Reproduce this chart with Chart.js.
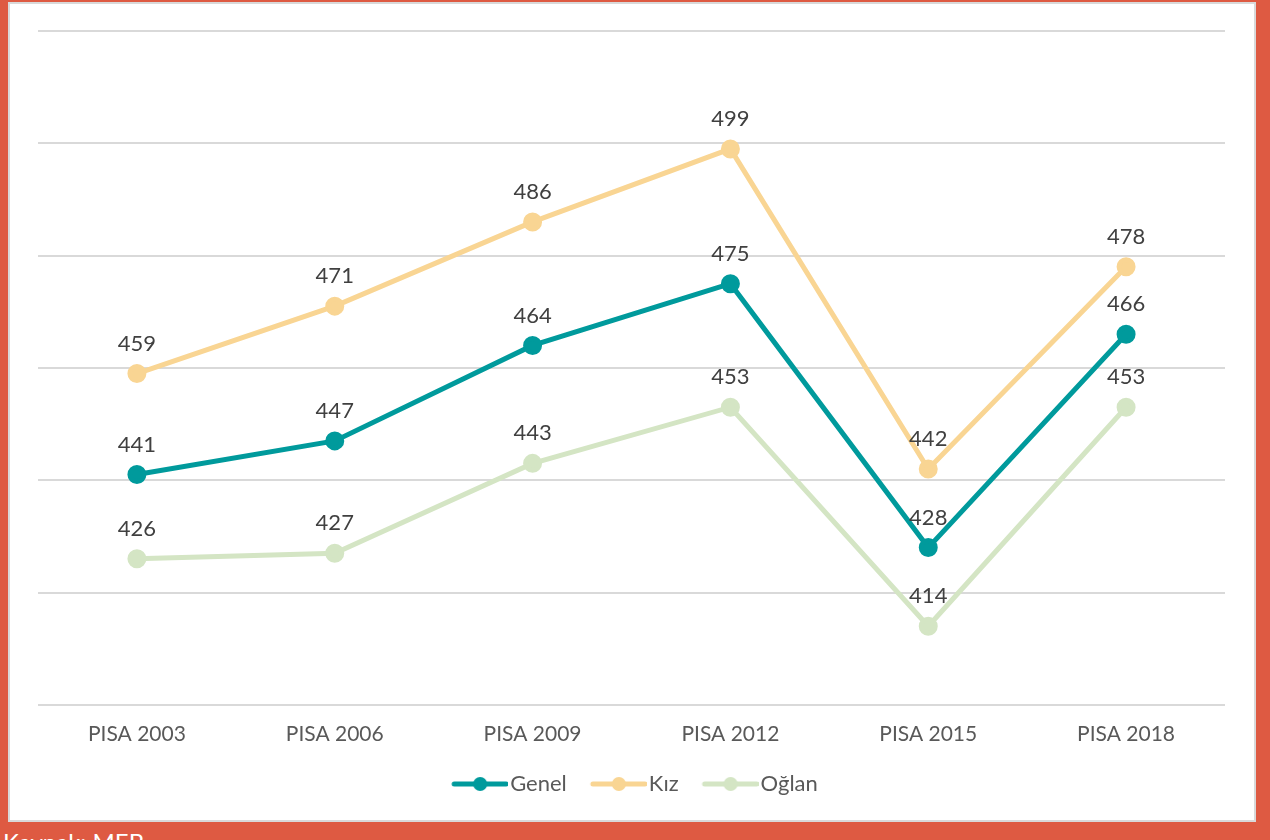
<!DOCTYPE html>
<html>
<head>
<meta charset="utf-8">
<script src="https://cdn.jsdelivr.net/npm/chart.js@4"></script>
<style>
  html, body { margin: 0; padding: 0; }
  body { width: 1270px; height: 840px; background: #DE5A42; position: relative; overflow: hidden; font-family: Lato, sans-serif; }
  #panel { position: absolute; left: 8px; top: 2px; width: 1248px; height: 820px; box-sizing: border-box; border: 2px solid #d9d9d9; background: #fff; }
  #wrap { position: absolute; left: 0; top: 0; width: 1244px; height: 816px; }
  #source { position: absolute; left: 3px; top: 827px; color: #fff; font-size: 24px; white-space: nowrap; }
</style>
</head>
<body>
<div id="panel"><div id="wrap"><canvas id="myChart"></canvas></div></div>
<div id="source">Kaynak: MEB</div>
<script>
var categories = ['PISA 2003', 'PISA 2006', 'PISA 2009', 'PISA 2012', 'PISA 2015', 'PISA 2018'];
var genel = [441, 447, 464, 475, 428, 466];
var kiz = [459, 471, 486, 499, 442, 478];
var oglan = [426, 427, 443, 453, 414, 453];

var colors = ['#009A9C', '#F9D593', '#D4E5C4'];

// legend marker: a short line with a dot in the middle
function legendMarker(color, thick) {
    var c = document.createElement('canvas');
    c.width = 72;
    c.height = 16;
    var g = c.getContext('2d');
    g.strokeStyle = color;
    g.lineWidth = thick;
    g.lineCap = 'round';
    g.beginPath();
    g.moveTo(18, 8);
    g.lineTo(70, 8);
    g.stroke();
    g.fillStyle = color;
    g.beginPath();
    g.arc(44, 8, 7, 0, Math.PI * 2);
    g.fill();
    return c;
}

// values above the points
var valueLabels = {
    id: 'valueLabels',
    afterDatasetsDraw: function(chart) {
        var ctx = chart.ctx;
        ctx.save();
        ctx.font = '22px Lato, sans-serif';
        ctx.fillStyle = '#404040';
        ctx.textAlign = 'center';
        ctx.textBaseline = 'middle';
        chart.data.datasets.forEach(function(ds, i) {
            chart.getDatasetMeta(i).data.forEach(function(pt, j) {
                ctx.fillText(ds.data[j], pt.x, pt.y - 30);
            });
        });
        ctx.restore();
    }
};

var ctx = document.getElementById('myChart').getContext('2d');
var chart = new Chart(ctx, {
    type: 'line',
    data: {
        labels: categories,
        datasets: [{
            label: 'Genel',
            data: genel,
            borderColor: colors[0],
            backgroundColor: colors[0],
            borderWidth: 5,
            pointRadius: 7,
            marker: legendMarker(colors[0], 5)
        }, {
            label: 'Kız',
            data: kiz,
            borderColor: colors[1],
            backgroundColor: colors[1],
            borderWidth: 5,
            pointRadius: 7,
            marker: legendMarker(colors[1], 5)
        }, {
            label: 'Oğlan',
            data: oglan,
            borderColor: colors[2],
            backgroundColor: colors[2],
            borderWidth: 5,
            pointRadius: 7,
            marker: legendMarker(colors[2], 5)
        }]
    },
    options: {
        responsive: true,
        maintainAspectRatio: false,
        animation: false,
        layout: { padding: { left: 28, right: 29, top: 27, bottom: 15 } },
        scales: {
            x: {
                offset: true,
                grid: { display: false },
                border: { display: false },
                ticks: { color: '#595959', padding: 9, font: { family: 'Lato', size: 21 } }
            },
            y: {
                min: 400,
                max: 520,
                ticks: { display: false, stepSize: 20 },
                border: { display: false },
                grid: { color: '#d9d9d9', lineWidth: 2, drawTicks: false }
            }
        },
        plugins: {
            tooltip: { enabled: false },
            legend: {
                position: 'bottom',
                padding: { top: 0, bottom: 10 },
                labels: {
                    usePointStyle: true,
                    pointStyleWidth: 54,
                    padding: 17,
                    color: '#595959',
                    font: { family: 'Lato', size: 22 },
                    generateLabels: function(chart) {
                        return chart.data.datasets.map(function(ds, i) {
                            return {
                                text: ds.label,
                                pointStyle: ds.marker,
                                fontColor: '#595959',
                                datasetIndex: i,
                                hidden: false
                            };
                        });
                    }
                }
            }
        }
    },
    plugins: [valueLabels]
});
</script>
</body>
</html>
